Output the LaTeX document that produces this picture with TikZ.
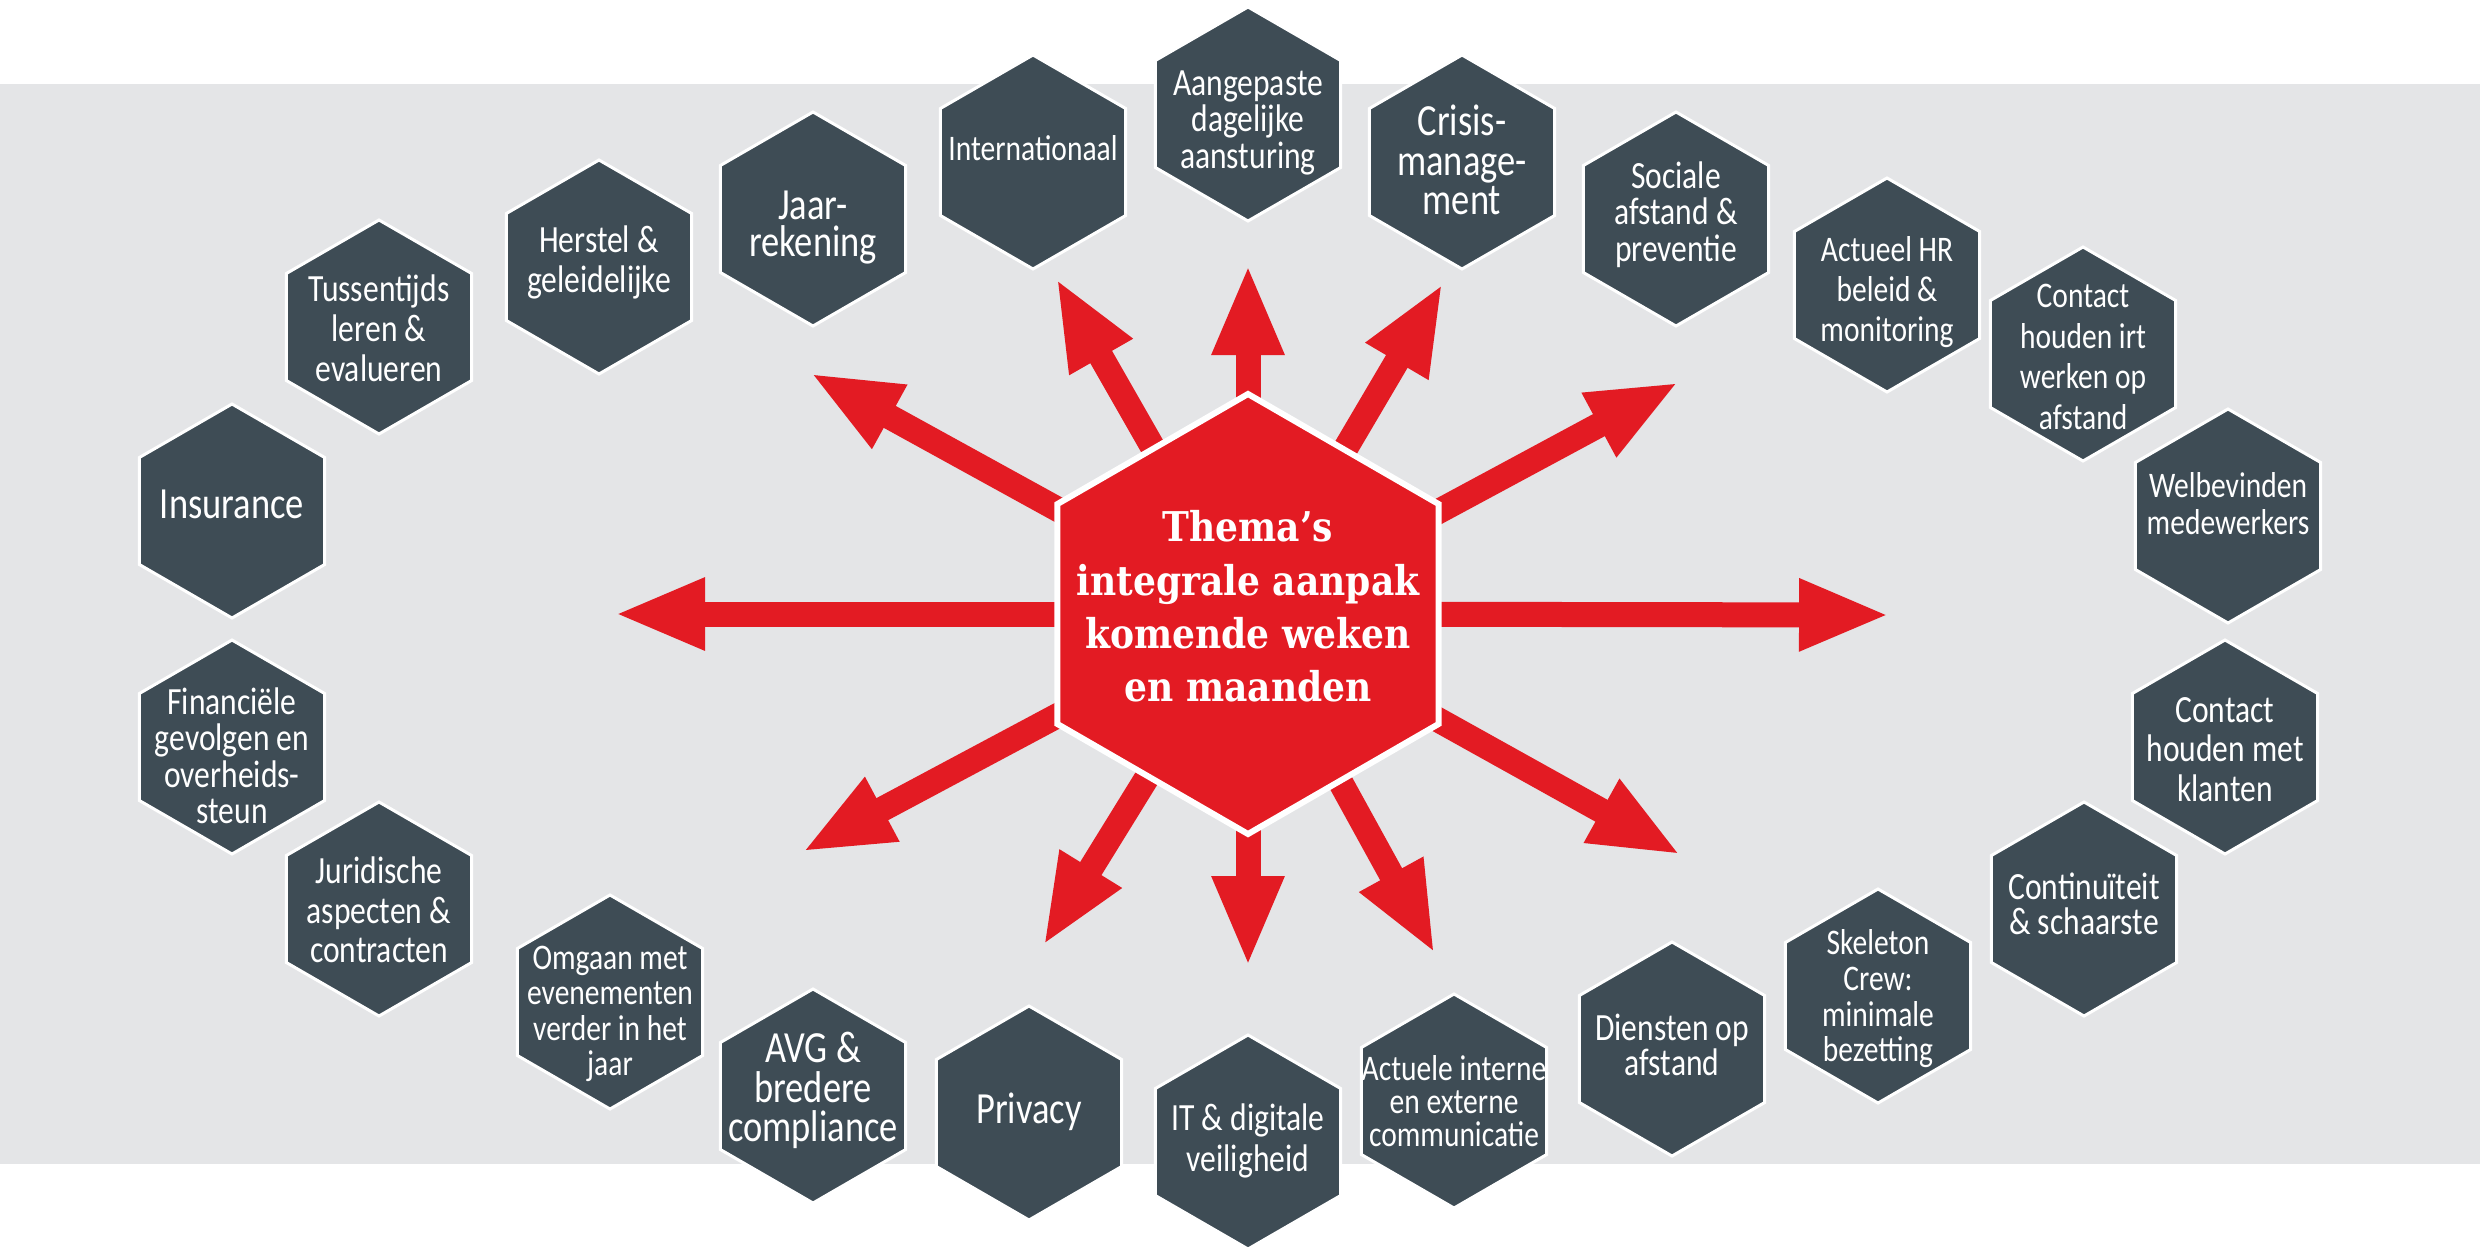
\documentclass[tikz,border=0pt]{standalone}
\usepackage{fontspec}
\usetikzlibrary{shapes.geometric,arrows.meta}
\newfontfamily\hexfont{Carlito}[FakeStretch=0.82]
\newfontfamily\centfont{DejaVu Serif}[FakeStretch=0.88]
\definecolor{bandgrey}{HTML}{E4E5E7}
\definecolor{hexslate}{HTML}{3E4C55}
\definecolor{themered}{HTML}{E31B23}
\pgfdeclarelayer{bandlayer}
\pgfdeclarelayer{raylayer}
\pgfsetlayers{bandlayer,raylayer,main}
\tikzset{
  hexcell/.style={regular polygon, regular polygon sides=6, shape border rotate=30,
    minimum size=214pt, inner sep=0pt, outer sep=0pt, fill=hexslate, draw=white, line width=3pt},
  corehex/.style={regular polygon, regular polygon sides=6, shape border rotate=30,
    minimum size=440pt, inner sep=0pt, outer sep=0pt, fill=themered, draw=white, line width=6pt},
  hexlabel/.style={text=white, align=center, inner sep=0pt,
    execute at begin node=\strut, execute at end node=\strut},
  smalltxt/.style={hexlabel, font=\hexfont\fontsize{36}{#1}\selectfont},
  smalltxt/.default=37,
  medtxt/.style={hexlabel, font=\hexfont\fontsize{38.5}{#1}\selectfont},
  medtxt/.default=38,
  bigtxt/.style={hexlabel, font=\hexfont\fontsize{44.5}{#1}\selectfont},
  bigtxt/.default=40,
  coretxt/.style={hexlabel, font=\centfont\bfseries\fontsize{41}{53.2}\selectfont},
  ray/.style={draw=themered, line width=25pt, -{Triangle[length=91pt,width=66pt]}},
}
\begin{document}
\begin{tikzpicture}[x=1pt,y=-1pt]
\useasboundingbox (0,0) rectangle (2480,1256);
\begin{pgfonlayer}{bandlayer}
  \fill[white] (0,0) rectangle (2480,1256);
  \fill[bandgrey] (0,84) rectangle (2480,1164);
\end{pgfonlayer}

% centre
\node[corehex] (core) at (1248,614) {};
\node[coretxt] (coretext) at (1248,614) {Thema’s\\integrale aanpak\\komende weken\\en maanden};

% ray ends
\coordinate (tipE)  at (1890,615);
\coordinate (tipW)  at (614,614);
\coordinate (tipN)  at (1248,264);
\coordinate (tipS)  at (1248,967);
\coordinate (tipNW) at (810,373);
\coordinate (tipNNW) at (1056,278);
\coordinate (tipNNE) at (1443,283);
\coordinate (tipNE) at (1679,382);
\coordinate (tipSW) at (802,852);
\coordinate (tipSSW) at (1043,946);
\coordinate (tipSSE) at (1435,954);
\coordinate (tipSE) at (1681,855);

\begin{pgfonlayer}{raylayer}
  \foreach \t in {tipE,tipW,tipN,tipS,tipNW,tipNNW,tipNNE,tipNE,tipSW,tipSSW,tipSSE,tipSE}
    \draw[ray] (core.center) -- (\t);
\end{pgfonlayer}

% hexagons
\node[hexcell] (ins) at (232,511) {};
\node[bigtxt] (insT) at (232,510) {Insurance};
\node[hexcell] (tus) at (379,327) {};
\node[medtxt=39.7] (tusT) at (379,334) {Tussentijds\\leren \&\\evalueren};
\node[hexcell] (her) at (599,267) {};
\node[medtxt=40] (herT) at (599,265) {Herstel \&\\geleidelijke};
\node[hexcell] (jaar) at (813,219) {};
\node[bigtxt=36.4] (jaarT) at (813,229) {Jaar-\\rekening};
\node[hexcell] (int) at (1033,162) {};
\node[smalltxt] (intT) at (1033,153) {Internationaal};
\node[hexcell] (aan) at (1248,114) {};
\node[medtxt=36.3] (aanT) at (1248,125) {Aangepaste\\dagelijke\\aansturing};
\node[hexcell] (cri) at (1462,162) {};
\node[bigtxt=39.5] (criT) at (1462,166) {Crisis-\\manage-\\ment};
\node[hexcell] (soc) at (1676,219) {};
\node[medtxt=36.4] (socT) at (1676,217) {Sociale\\afstand \&\\preventie};
\node[hexcell] (hr) at (1887,285) {};
\node[smalltxt=40.3] (hrT) at (1887,295) {Actueel HR\\beleid \&\\monitoring};
\node[hexcell] (cirt) at (2083,354) {};
\node[smalltxt=40.6] (cirtT) at (2083,363) {Contact\\houden irt\\werken op\\afstand};
\node[hexcell] (wel) at (2228,516) {};
\node[smalltxt=36.4] (welT) at (2228,509) {Welbevinden\\medewerkers};
\node[hexcell] (fin) at (232,747) {};
\node[medtxt=36.5] (finT) at (232,761) {Financiële\\gevolgen en\\overheids-\\steun};
\node[hexcell] (jur) at (379,909) {};
\node[medtxt=39.5] (jurT) at (379,916) {Juridische\\aspecten \&\\contracten};
\node[hexcell] (omg) at (610,1002) {};
\node[smalltxt=35.2] (omgT) at (610,1016) {Omgaan met\\evenementen\\verder in het\\jaar};
\node[hexcell] (avg) at (813,1096) {};
\node[bigtxt=39.5] (avgT) at (813,1093) {AVG \&\\bredere\\compliance};
\node[hexcell] (pri) at (1029,1113) {};
\node[bigtxt] (priT) at (1029,1114) {Privacy};
\node[hexcell] (it) at (1248,1142) {};
\node[medtxt=41] (itT) at (1248,1144) {IT \& digitale\\veiligheid};
\node[hexcell] (act) at (1454,1101) {};
\node[smalltxt=33.2] (actT) at (1454,1106) {Actuele interne\\en externe\\communicatie};
\node[hexcell] (die) at (1672,1049) {};
\node[medtxt=35] (dieT) at (1672,1050) {Diensten op\\afstand};
\node[hexcell] (ske) at (1878,996) {};
\node[smalltxt=35.8] (skeT) at (1878,1001) {Skeleton\\Crew:\\minimale\\bezetting};
\node[hexcell] (con) at (2084,909) {};
\node[medtxt=35] (conT) at (2084,909) {Continuïteit\\\& schaarste};
\node[hexcell] (ckl) at (2225,747) {};
\node[medtxt=39.5] (cklT) at (2225,755) {Contact\\houden met\\klanten};
\end{tikzpicture}
\end{document}
